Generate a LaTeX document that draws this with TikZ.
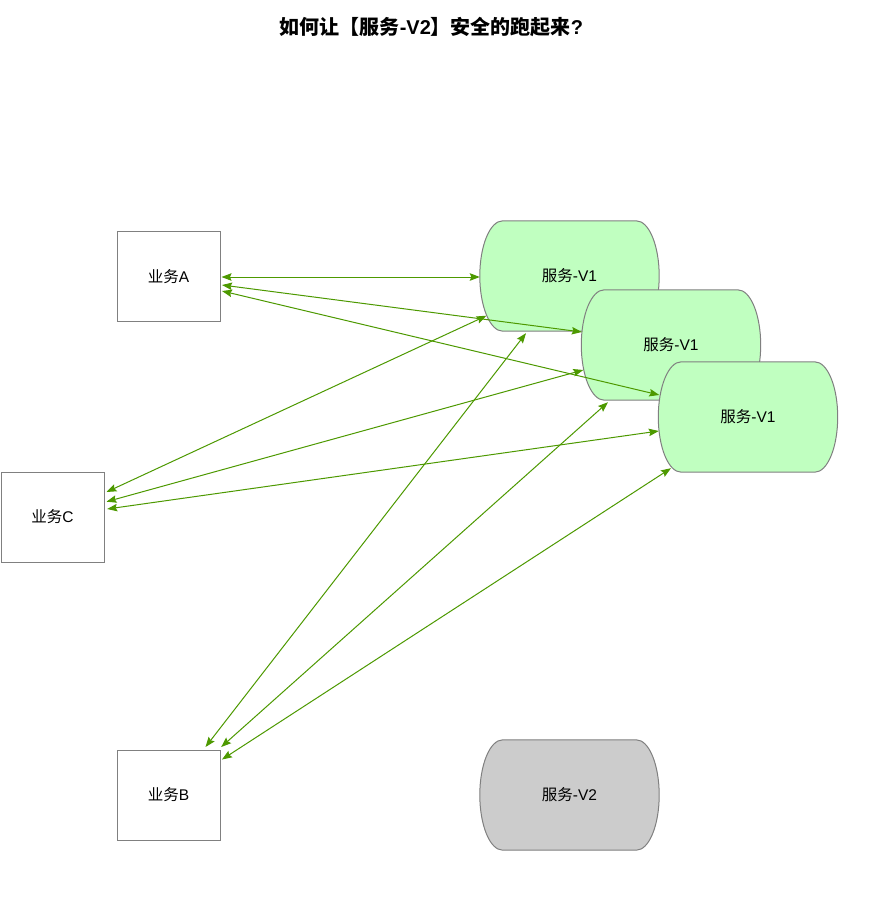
\documentclass[tikz,border=0pt]{standalone}
\usepackage{fontspec}
\setmainfont{Liberation Sans}
\newfontfamily\cjk{Noto Sans CJK SC}
\usetikzlibrary{calc,arrows.meta,backgrounds}
\definecolor{edgegreen}{HTML}{4D9900}
\definecolor{svcgreen}{HTML}{C0FFC0}
\definecolor{svcgray}{HTML}{CCCCCC}
\definecolor{linegray}{HTML}{808080}
\tikzset{
  box/.style={draw=linegray, line width=1pt, fill=white, minimum width=103pt, minimum height=90pt, inner sep=0pt, font=\fontsize{15.5pt}{18pt}\selectfont},
  svc/.style={minimum width=179pt, minimum height=110pt, inner sep=0pt, font=\fontsize{15.5pt}{18pt}\selectfont},
  svcline/.style={draw=linegray, line width=1pt},
  link/.style={draw=edgegreen, line width=1pt, {Stealth[length=10pt,width=7.5pt,inset=1.5pt]}-{Stealth[length=10pt,width=7.5pt,inset=1.5pt]}},
  titletext/.style={font=\fontsize{20pt}{24pt}\selectfont\bfseries}
}
\newcommand\svcpath[2]{%
  \draw[svcline, fill=#2]
    ($(#1.north west)+(23,0)$) -- ($(#1.north east)+(-23,0)$)
    .. controls ($(#1.north east)+(-10,0)$) and ($(#1.east)+(0,-30)$) .. (#1.east)
    .. controls ($(#1.east)+(0,30)$) and ($(#1.south east)+(-10,0)$) .. ($(#1.south east)+(-23,0)$)
    -- ($(#1.south west)+(23,0)$)
    .. controls ($(#1.south west)+(10,0)$) and ($(#1.west)+(0,30)$) .. (#1.west)
    .. controls ($(#1.west)+(0,-30)$) and ($(#1.north west)+(10,0)$) .. cycle;}
\begin{document}
\begin{tikzpicture}[x=1pt,y=-1pt]
\useasboundingbox (0,0) rectangle (873,903);

\node[titletext] (title) at (431.5,27) {{\cjk 如何让【服务}-V2{\cjk 】安全的跑起来}?};

\node[box] (A) at (168.5,276.5) {{\cjk 业务}A};
\node[box] (C) at (52.5,517) {{\cjk 业务}C};
\node[box] (B) at (168.5,795) {{\cjk 业务}B};

\node[svc] (v1a) at (569.5,276) {{\cjk 服务}-V1};
\node[svc] (v1b) at (671,345) {{\cjk 服务}-V1};
\node[svc] (v1c) at (748,417) {{\cjk 服务}-V1};
\node[svc] (v2) at (569.5,795) {{\cjk 服务}-V2};
\begin{pgfonlayer}{background}
\fill[white] (0,0) rectangle (873,903);
\svcpath{v1a}{svcgreen}
\svcpath{v1b}{svcgreen}
\svcpath{v1c}{svcgreen}
\svcpath{v2}{svcgray}
\end{pgfonlayer}

% A links
\draw[link] ($(A.east)+(1,0.5)$) -- ($(v1a.west)+(0,1)$);
\draw[link] ($(A.east)+(1.5,8.5)$) -- ($(v1b.west)+(0.5,-13)$);
\draw[link] ($(A.east)+(1.5,14.5)$) -- ($(v1c.west)+(1,-22)$);
% C links
\draw[link] ($(C.east)+(2,-25)$) -- ($(v1a.south west)+(6.7,-15.5)$);
\draw[link] ($(C.east)+(2,-15.3)$) -- ($(v1b.west)+(2,25)$);
\draw[link] ($(C.east)+(2.7,-8)$) -- ($(v1c.west)+(0.5,14)$);
% B links
\draw[link] ($(B.north)+(37,-2.5)$) -- ($(v1a.south)+(-43.5,2)$);
\draw[link] ($(B.north east)+(0.7,-2.5)$) -- ($(v1b.south)+(-63,2)$);
\draw[link] ($(B.north east)+(1.5,10)$) -- ($(v1c.south west)+(12.7,-4)$);
\end{tikzpicture}
\end{document}
